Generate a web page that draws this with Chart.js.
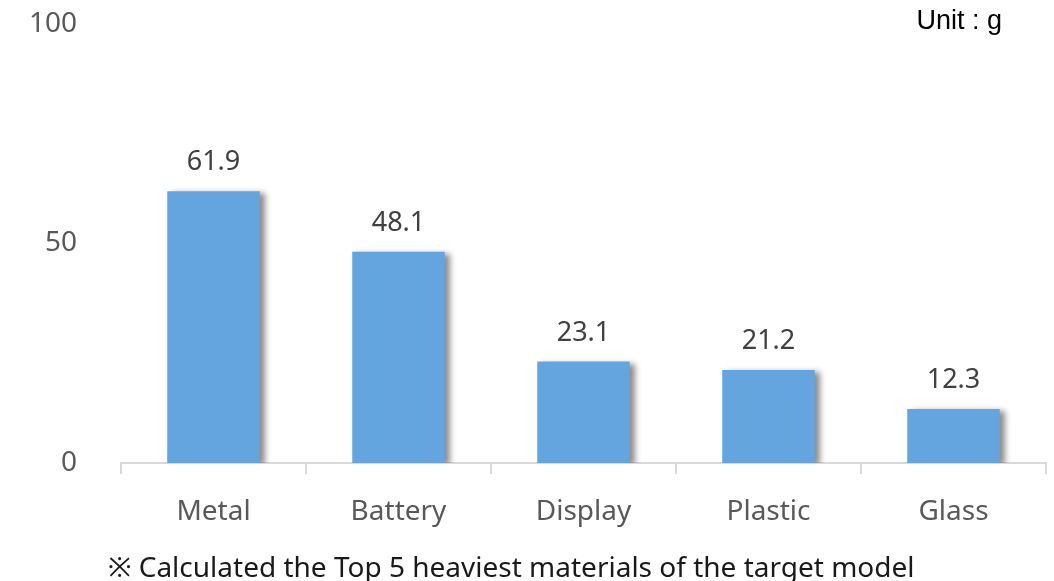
<!DOCTYPE html>
<html>
<head>
<meta charset="utf-8">
<script src="https://cdn.jsdelivr.net/npm/chart.js@4"></script>
<style>
  html, body { margin: 0; padding: 0; background: #fff; }
  #wrap { width: 1054px; height: 581px; position: relative; }
</style>
</head>
<body>
<div id="wrap"><canvas id="materialChart"></canvas></div>
<script>
const materials = ["Metal", "Battery", "Display", "Plastic", "Glass"];
const weights = [61.9, 48.1, 23.1, 21.2, 12.3];
const yTicks = [0, 50, 100];
const unitText = "Unit : g";
const noteText = "※ Calculated the Top 5 heaviest materials of the target model";

const FONT = "'Noto Sans', 'Noto Sans CJK KR', sans-serif";

// shadow on the bars only
const barShadow = {
  id: "barShadow",
  beforeDatasetsDraw(chart) {
    const ctx = chart.ctx;
    ctx.save();
    ctx.shadowColor = "rgba(0,0,0,0.45)";
    ctx.shadowBlur = 6;
    ctx.shadowOffsetX = 5;
    ctx.shadowOffsetY = 2;
  },
  afterDatasetsDraw(chart) {
    chart.ctx.restore();
  }
};

// value labels, unit and footnote
const extraText = {
  id: "extraText",
  afterDraw(chart) {
    const ctx = chart.ctx;
    const meta = chart.getDatasetMeta(0);
    ctx.save();
    ctx.font = "27px " + FONT;
    ctx.fillStyle = "#404040";
    ctx.textAlign = "center";
    ctx.textBaseline = "alphabetic";
    meta.data.forEach((bar, i) => {
      ctx.fillText(weights[i].toFixed(1), bar.x, bar.y - 21);
    });

    ctx.font = "27px 'Liberation Sans', Arial, sans-serif";
    ctx.fillStyle = "#000";
    ctx.textAlign = "right";
    ctx.fillText(unitText, 1002, 29);

    ctx.font = "28px " + FONT;
    ctx.fillStyle = "#1a1a1a";
    ctx.textAlign = "left";
    ctx.fillText(noteText, 108, 577);
    ctx.restore();
  }
};

new Chart(document.getElementById("materialChart"), {
  type: "bar",
  data: {
    labels: materials,
    datasets: [{
      data: weights,
      backgroundColor: "#64a5e0",
      borderWidth: 0,
      categoryPercentage: 0.5,
      barPercentage: 1
    }]
  },
  options: {
    responsive: true,
    maintainAspectRatio: false,
    animation: false,
    layout: { padding: { top: 24, right: 8, bottom: 0, left: 0 } },
    plugins: {
      legend: { display: false },
      tooltip: { enabled: false }
    },
    scales: {
      x: {
        offset: true,
        grid: {
          display: true,
          offset: true,
          drawOnChartArea: false,
          drawTicks: true,
          tickLength: 11,
          color: "#d9d9d9",
          lineWidth: 2
        },
        border: { display: true, color: "#d9d9d9", width: 2 },
        ticks: {
          color: "#595959",
          font: { size: 28, family: FONT },
          padding: 21
        },
        afterFit(scale) { scale.height = 118; }
      },
      y: {
        min: 0,
        max: 100,
        afterBuildTicks(scale) { scale.ticks = yTicks.map(v => ({ value: v })); },
        grid: { display: false, drawTicks: false },
        border: { display: false },
        ticks: {
          color: "#595959",
          font: { size: 28, family: FONT },
          padding: 44
        },
        afterFit(scale) {
          scale.width = 121;
          scale.paddingTop = 0;
          scale.paddingBottom = 0;
        }
      }
    }
  },
  plugins: [barShadow, extraText]
});
</script>
</body>
</html>
